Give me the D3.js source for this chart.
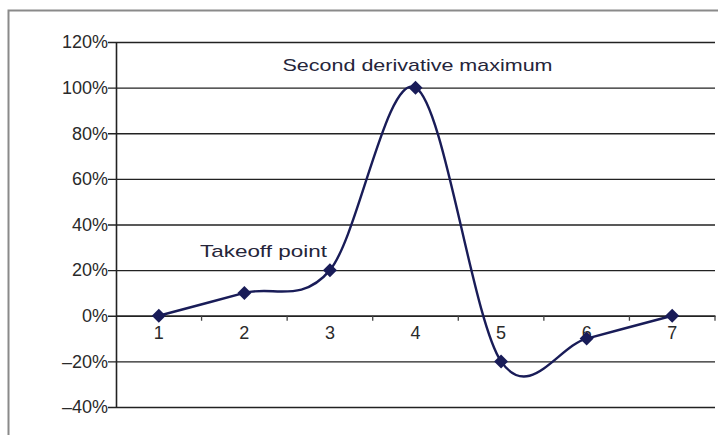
<!DOCTYPE html>
<html>
<head>
<meta charset="utf-8">
<script src="https://cdn.jsdelivr.net/npm/d3@7"></script>
<style>
  body { margin: 0; background: #fff; }
  svg { display: block; font-family: "Liberation Sans", Arial, sans-serif; }
</style>
</head>
<body>
<svg id="chart"></svg>
<script>
var categories = ["1", "2", "3", "4", "5", "6", "7"];
var values = [0, 0.10, 0.20, 1.00, -0.20, -0.10, 0];
var yTicks = [-0.4, -0.2, 0, 0.2, 0.4, 0.6, 0.8, 1.0, 1.2];
var annotations = [
  { cat: "3", text: "Takeoff point" },
  { cat: "4", text: "Second derivative maximum" }
];

var width = 718, height = 435;
var navy = "#191c58";

var svg = d3.select("#chart")
  .attr("width", width)
  .attr("height", height);

svg.append("rect").attr("width", width).attr("height", height).attr("fill", "#fff");

// outer chart frame (cut off at right/bottom)
svg.append("path")
  .attr("d", "M8.5," + height + "V10.5H" + width)
  .attr("fill", "none")
  .attr("stroke", "#8a8a8a")
  .attr("stroke-width", 2);

var x = d3.scaleBand().domain(categories).range([116, 715]);
var y = d3.scaleLinear().domain([-0.4, 1.2]).range([407, 42]);

var fmt = function (d) {
  var s = Math.round(d * 100) + "%";
  return s.replace("-", "\u2013");
};

// gridlines + y labels
var yAxis = svg.append("g")
  .attr("transform", "translate(116,0)")
  .attr("font-family", null)
  .call(d3.axisLeft(y).tickValues(yTicks).tickFormat(fmt).tickSize(-(715 - 116)));
yAxis.attr("font-family", null).attr("font-size", 18);
yAxis.select(".domain").remove();
yAxis.selectAll(".tick line")
  .attr("x1", -8)
  .attr("stroke", "#222")
  .attr("stroke-width", 1.4);
yAxis.selectAll(".tick text")
  .attr("fill", "#2a2a2a")
  .attr("x", -8);

// y axis line
svg.append("line")
  .attr("x1", 116.5).attr("x2", 116.5)
  .attr("y1", y(1.2)).attr("y2", y(-0.4))
  .attr("stroke", "#222")
  .attr("stroke-width", 1.6);

// x axis at 0%
var xAxis = svg.append("g")
  .attr("transform", "translate(0," + y(0) + ")")
  .call(d3.axisBottom(x).tickSize(0).tickPadding(10));
xAxis.attr("font-family", null).attr("font-size", 18);
xAxis.select(".domain").attr("stroke", "#222").attr("stroke-width", 1.6);
xAxis.selectAll(".tick text")
  .attr("fill", "#2a2a2a");

// category boundary ticks
svg.append("g")
  .selectAll("line")
  .data(categories)
  .enter()
  .append("line")
  .attr("x1", function (d) { return x(d) + x.bandwidth(); })
  .attr("x2", function (d) { return x(d) + x.bandwidth(); })
  .attr("y1", y(0))
  .attr("y2", y(0) + 5)
  .attr("stroke", "#444")
  .attr("stroke-width", 1.3);

var pts = categories.map(function (c, i) {
  return [x(c) + x.bandwidth() / 2, y(values[i])];
});

// smoothed line
svg.append("path")
  .datum(pts)
  .attr("d", d3.line().curve(d3.curveCardinal.tension(0)))
  .attr("fill", "none")
  .attr("stroke", navy)
  .attr("stroke-width", 2.4);

// diamond markers
svg.append("g")
  .selectAll("path")
  .data(pts)
  .enter()
  .append("path")
  .attr("transform", function (d) { return "translate(" + d[0] + "," + d[1] + ")"; })
  .attr("d", "M0,-7L7,0L0,7L-7,0Z")
  .attr("fill", navy);

// annotations
var a0 = annotations[0];
var i0 = categories.indexOf(a0.cat);
svg.append("text")
  .attr("x", x(a0.cat) + x.bandwidth() / 2 - 3)
  .attr("y", y(values[i0]) - 13)
  .attr("text-anchor", "end")
  .attr("font-size", 17)
  .attr("fill", "#25253a")
  .attr("textLength", 127)
  .attr("lengthAdjust", "spacingAndGlyphs")
  .text(a0.text);

var a1 = annotations[1];
var i1 = categories.indexOf(a1.cat);
svg.append("text")
  .attr("x", x(a1.cat) + x.bandwidth() / 2 + 2)
  .attr("y", y(values[i1]) - 17)
  .attr("text-anchor", "middle")
  .attr("font-size", 17)
  .attr("fill", "#25253a")
  .attr("textLength", 270)
  .attr("lengthAdjust", "spacingAndGlyphs")
  .text(a1.text);
</script>
</body>
</html>
